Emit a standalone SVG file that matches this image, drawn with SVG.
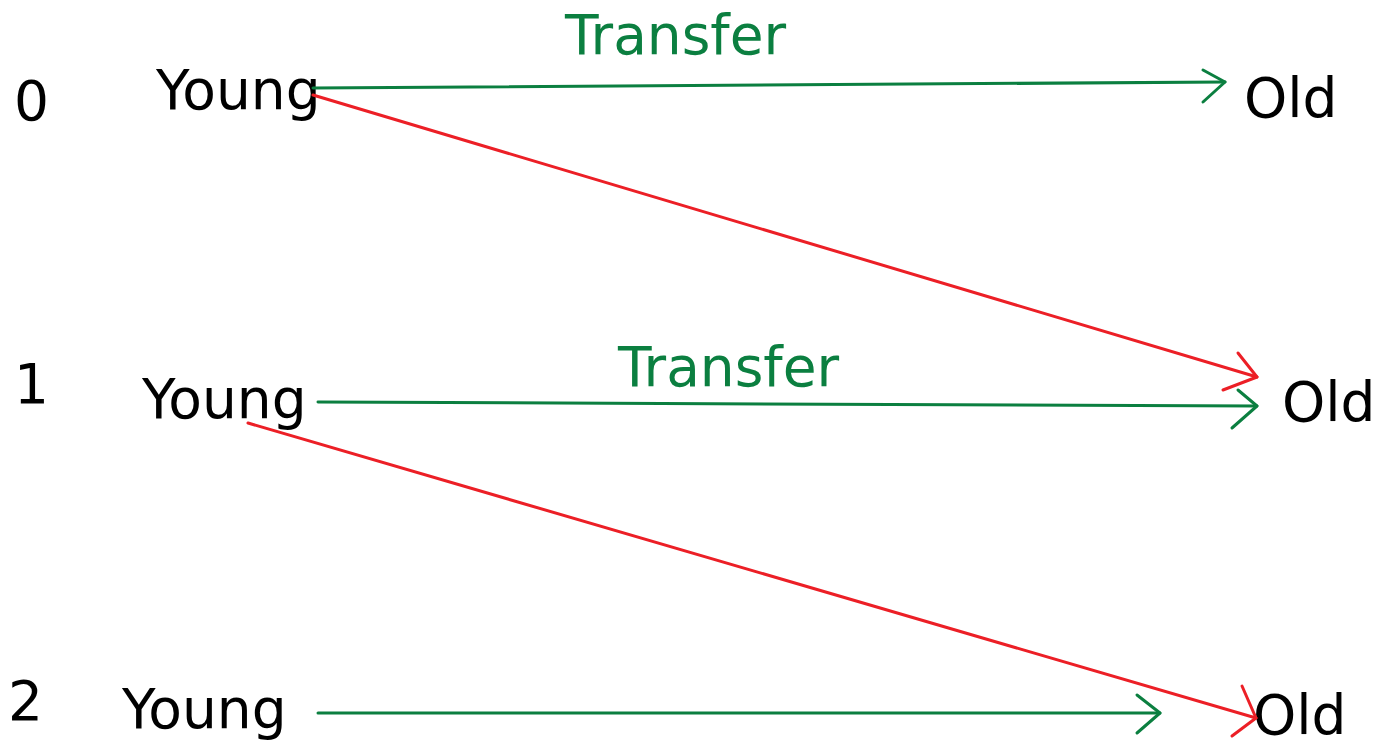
<svg xmlns="http://www.w3.org/2000/svg" width="1378" height="741" viewBox="0 0 1378 741">
<style>
text{font-family:"DejaVu Sans",sans-serif;font-size:55px;fill:#000}
.lbl{fill:#0b7f40}
.g{stroke:#0b7f40;stroke-width:3;fill:none;stroke-linecap:round;stroke-linejoin:round}
.r{stroke:#ec1f26;stroke-width:3;fill:none;stroke-linecap:round;stroke-linejoin:round}
</style>
<rect width="1378" height="741" fill="#fff"/>
<g id="row0"><text x="14" y="120">0</text></g>
<g id="row1"><text x="14" y="403">1</text></g>
<g id="row2"><text x="8" y="720">2</text></g>
<g id="young0"><text x="156" y="109">Young</text></g>
<g id="young1"><text x="142" y="418">Young</text></g>
<g id="young2"><text x="122" y="728">Young</text></g>
<g id="old0"><text x="1244" y="117">Old</text></g>
<g id="old1"><text x="1282" y="421">Old</text></g>
<g id="old2"><text x="1253" y="734">Old</text></g>
<g id="connectors">
<path class="g" d="M313 88 L1225 82"/>
<path class="g" d="M1203 70 L1225 82 L1203 102"/>
<path class="r" d="M313 95 L1257 377"/>
<path class="r" d="M1238 353 L1257 377 L1223 390"/>
<path class="g" d="M318 402 L1257 406"/>
<path class="g" d="M1238 390 L1257 406 L1232 428"/>
<path class="r" d="M248 423 L1256 718"/>
<path class="r" d="M1242 686 L1256 718 L1232 736"/>
<path class="g" d="M318 713 L1160 713"/>
<path class="g" d="M1137 695 L1160 713 L1137 733"/>
<text class="lbl" x="565" y="54">Transfer</text>
<text class="lbl" x="618" y="386">Transfer</text>
</g>
</svg>
